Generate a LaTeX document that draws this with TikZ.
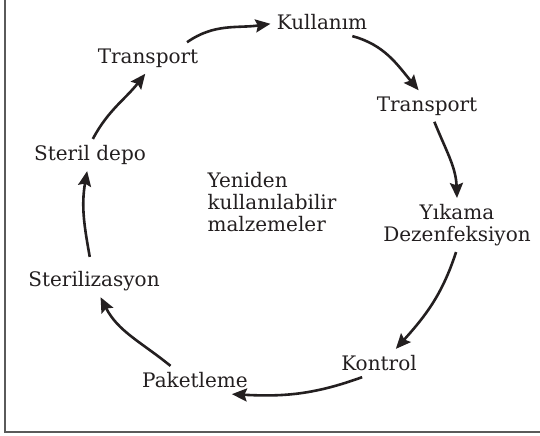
\documentclass[tikz,border=0pt]{standalone}
\usepackage{fontspec}
\setmainfont{DejaVu Serif}
\usepackage{xcolor}
\definecolor{cMain}{HTML}{231F20}
\definecolor{cFrame}{HTML}{5A5A5A}
\usepackage{tikz}
\usetikzlibrary{arrows.meta}
\tikzset{
  node-label/.style={inner sep=3pt,align=center,text=cMain,
    font=\fontsize{10}{10.8}\selectfont},
  arrow/.style={-{Stealth[length=7.5pt,width=6.5pt,inset=1.2pt]},line width=1.3pt,draw=cMain},
  frame-line/.style={draw=cFrame,line width=0.8pt},
}

\begin{document}
\begin{tikzpicture}[x=0.5pt,y=0.5pt]
  \useasboundingbox (0,0) rectangle (540,-435);
  \draw[frame-line] (5,0) -- (5,-432) -- (540,-432);
  \foreach \name/\x/\y/\txt in {trA/148/58/Transport, kul/322/22/Kullanım,
      trB/427/106/Transport, yik/457/225/Yıkama\\Dezenfeksiyon, kon/379/363/Kontrol,
      pak/195/380/Paketleme, ster/94/281/Sterilizasyon, dep/90/155/Steril depo} {
    \node[node-label] (\name) at (\x,-\y) {\txt};
  }
  \node[node-label,align=left] (mid) at (272,-202) {Yeniden\\kullanılabilir\\malzemeler};
  % the cycle
  \draw[arrow] (trA.22) to[out=35,in=188] (kul.182);
  \draw[arrow] (kul.-25) to[out=-15,in=130] (trB.118);
  \draw[arrow] (trB.-65) to[out=-68,in=92] (yik.north);
  \draw[arrow] (yik.-92) to[out=-108,in=48] (kon.40);
  \draw[arrow] (kon.-140) to[out=200,in=-3] (pak.-21);
  \draw[arrow] (pak.150) to[out=141,in=-63] (ster.-68);
  \draw[arrow,shorten <=4pt] (ster.100) to[out=100,in=-100] (dep.-100);
  \draw[arrow] (dep.80) to[out=62,in=-128] (trA.-100);
\end{tikzpicture}
\end{document}
